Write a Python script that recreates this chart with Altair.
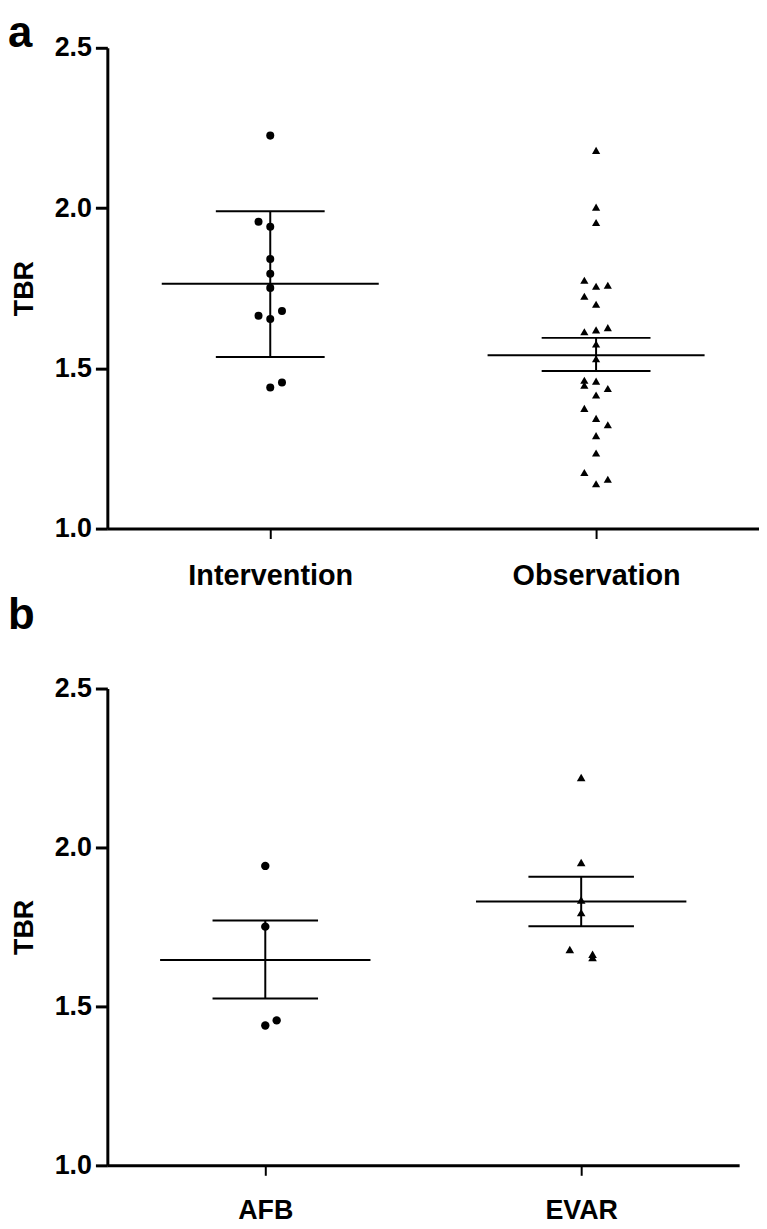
import altair as alt
import pandas as pd

FONT = "Liberation Sans"

# ---------------- data ----------------
panel_a_groups = ["Intervention", "Observation"]
panel_b_groups = ["AFB", "EVAR"]
group_shapes = ["circle", "triangle-up"]
group_sizes = [65, 75]
y_ticks = [1.0, 1.5, 2.0, 2.5]

intervention_tbr = [2.226, 1.957, 1.942, 1.841, 1.795, 1.751, 1.664, 1.679, 1.654, 1.440, 1.456]
intervention_lane = [0, -1, 0, 0, 0, 0, -1, 1, 0, 0, 1]

observation_tbr = [2.180, 2.003, 1.955, 1.775, 1.756, 1.759, 1.725, 1.700, 1.614, 1.620,
                   1.627, 1.576, 1.530, 1.463, 1.447, 1.460, 1.437, 1.417, 1.375, 1.344,
                   1.324, 1.290, 1.236, 1.175, 1.140, 1.154]
observation_lane = [0, 0, 0, -1, 0, 1, -1, 0, -1, 0,
                    1, 0, 0, -1, -1, 0, 1, 0, -1, 0,
                    1, 0, 0, -1, 0, 1]

panel_a_mean = [1.764, 1.541]
panel_a_lower = [1.535, 1.492]
panel_a_upper = [1.990, 1.595]

afb_tbr = [1.942, 1.751, 1.440, 1.456]
afb_lane = [0, 0, 0, 1]

evar_tbr = [2.220, 1.953, 1.835, 1.795, 1.679, 1.664, 1.654]
evar_lane = [0, 0, 0, 0, -1, 1, 1]

panel_b_mean = [1.646, 1.830]
panel_b_lower = [1.525, 1.752]
panel_b_upper = [1.770, 1.908]

# ---------------- layout constants ----------------
MEAN_HALF = 0.333
CAP_HALF = 0.167
LANE_STEP = 0.036


def build_panel(letter, groups, tbr_lists, lane_lists, means, lowers, uppers,
                width, height, letter_y, x_label_size):
    rows = []
    for gi, (g, vals, lanes) in enumerate(zip(groups, tbr_lists, lane_lists)):
        for v, l in zip(vals, lanes):
            rows.append({"group": g, "pos": gi + 1, "lane": l, "tbr": v})
    pts = pd.DataFrame(rows)
    summ = pd.DataFrame({
        "group": groups,
        "pos": [i + 1 for i in range(len(groups))],
        "mean": means,
        "lower": lowers,
        "upper": uppers,
    })

    label_expr = f"datum.value == 1 ? '{groups[0]}' : '{groups[1]}'"
    xscale = alt.Scale(domain=[0.5, 2.5], nice=False, zero=False)
    yscale = alt.Scale(domain=[1.0, 2.5], nice=False, zero=False)
    xaxis = alt.Axis(values=[1, 2], labelExpr=label_expr, tickSize=10, tickWidth=2,
                     labelPadding=23, labelFontSize=x_label_size, grid=False)
    yaxis = alt.Axis(values=y_ticks, format=".1f", tickSize=12, tickWidth=3,
                     labelPadding=4, titlePadding=16, grid=False)

    def X(field):
        return alt.X(f"{field}:Q", scale=xscale, axis=xaxis, title=None)

    def Y(field):
        return alt.Y(f"{field}:Q", scale=yscale, axis=yaxis, title="TBR")

    points = alt.Chart(pts).transform_calculate(
        xp=f"datum.pos + datum.lane * {LANE_STEP}"
    ).mark_point(filled=True, opacity=1, color="black").encode(
        x=X("xp"),
        y=Y("tbr"),
        shape=alt.Shape("group:N", scale=alt.Scale(domain=groups, range=group_shapes), legend=None),
        size=alt.Size("group:N", scale=alt.Scale(domain=groups, range=group_sizes), legend=None),
    )

    mean_line = alt.Chart(summ).transform_calculate(
        xp=f"datum.pos - {MEAN_HALF}", xq=f"datum.pos + {MEAN_HALF}"
    ).mark_rule(color="black", strokeWidth=2).encode(
        x=X("xp"), x2="xq:Q", y=Y("mean")
    )

    vert = alt.Chart(summ).transform_calculate(
        xp="datum.pos"
    ).mark_rule(color="black", strokeWidth=2).encode(
        x=X("xp"), y=Y("lower"), y2="upper:Q"
    )

    caps = alt.Chart(summ).transform_fold(
        ["lower", "upper"], as_=["which", "val"]
    ).transform_calculate(
        xp=f"datum.pos - {CAP_HALF}", xq=f"datum.pos + {CAP_HALF}"
    ).mark_rule(color="black", strokeWidth=2).encode(
        x=X("xp"), x2="xq:Q", y=Y("val")
    )

    letter_mark = alt.Chart(pd.DataFrame({"letter": [letter]})).mark_text(
        align="left", baseline="top", fontSize=44, fontWeight="bold", font=FONT, color="black"
    ).encode(x=alt.value(-100), y=alt.value(letter_y), text="letter:N")

    return alt.layer(mean_line, vert, caps, points, letter_mark).properties(
        width=width, height=height
    )


panel_a = build_panel("a", panel_a_groups, [intervention_tbr, observation_tbr],
                      [intervention_lane, observation_lane],
                      panel_a_mean, panel_a_lower, panel_a_upper, 656, 484, -36, 29)
panel_b = build_panel("b", panel_b_groups, [afb_tbr, evar_tbr],
                      [afb_lane, evar_lane],
                      panel_b_mean, panel_b_lower, panel_b_upper, 636, 480, -95, 27)

chart = alt.vconcat(panel_a, panel_b, spacing=4).properties(
    padding=0, background="white"
).configure_view(stroke=None).configure_axis(
    domainColor="black", domainWidth=3, tickColor="black",
    labelColor="black", labelFont=FONT, labelFontSize=27, labelFontWeight="bold",
    titleColor="black", titleFont=FONT, titleFontSize=27, titleFontWeight="bold",
)

chart.save("out.html", embed_options={"renderer": "svg", "actions": False})
